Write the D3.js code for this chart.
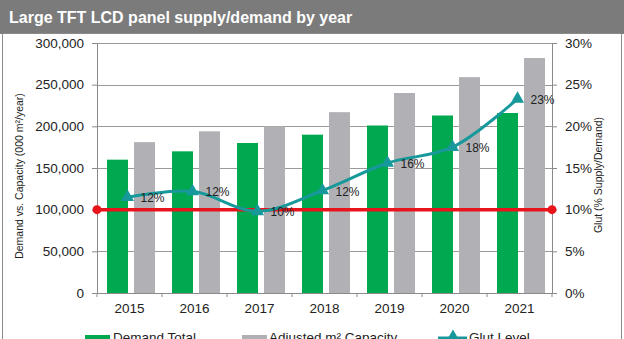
<!DOCTYPE html>
<html lang="en">
<head>
<meta charset="UTF-8">
<script src="https://cdnjs.cloudflare.com/ajax/libs/d3/7.8.5/d3.min.js"></script>
<title>Large TFT LCD panel supply/demand by year</title>
<style>
    body { margin: 0; background: #fff; }
    svg { display: block; font-family: "Liberation Sans", Arial, sans-serif; }
</style>
</head>
<body>
<script>
    // yearly values
    const years = ["2015", "2016", "2017", "2018", "2019", "2020", "2021"];
    const demand = [160000, 170000, 180000, 190000, 201000, 213000, 216000];
    const capacity = [181000, 194000, 200000, 217000, 240000, 259000, 282000];
    const glut = [11.5, 12.2, 9.8, 12.3, 15.6, 17.5, 23.3];
    const threshold = 10;
    const leftTicks = [0, 50000, 100000, 150000, 200000, 250000, 300000];
    const rightTicks = [0, 5, 10, 15, 20, 25, 30];

    const W = 624, H = 339;
    const m = {left: 97, right: 72, top: 43, bottom: 46};
    const pw = W - m.left - m.right, ph = H - m.top - m.bottom;

    const svg = d3.select("body").append("svg").attr("width", W).attr("height", H);

    // title bar + framed panel
    svg.append("rect").attr("x", 0).attr("y", 0).attr("width", W).attr("height", 34).attr("fill", "#7b7b7b");
    svg.append("rect").attr("x", 2.5).attr("y", 33.5).attr("width", W - 5).attr("height", H)
        .attr("fill", "#fff").attr("stroke", "#8a8a8a").attr("stroke-width", 1);
    svg.append("text").attr("x", 9).attr("y", 23).attr("fill", "#fff")
        .attr("font-size", 16).attr("font-weight", "bold")
        .text("Large TFT LCD panel supply/demand by year");

    const g = svg.append("g").attr("transform", `translate(${m.left},${m.top})`);

    const x = d3.scaleBand().domain(years).range([0, pw]);
    const y = d3.scaleLinear().domain([0, 300000]).range([ph, 0]);
    const y2 = d3.scaleLinear().domain([0, 30]).range([ph, 0]);

    // gridlines
    g.selectAll(".grid").data(leftTicks.slice(1)).join("line")
        .attr("x1", 0).attr("x2", pw)
        .attr("y1", d => Math.round(y(d)) + 0.5).attr("y2", d => Math.round(y(d)) + 0.5)
        .attr("stroke", "#9a9a9a").attr("stroke-width", 1);

    // bars
    const bw = 21;
    g.selectAll(".dem").data(years).join("rect")
        .attr("x", (d) => x(d) + 10).attr("width", bw)
        .attr("y", (d, i) => y(demand[i])).attr("height", (d, i) => ph - y(demand[i]))
        .attr("fill", "#00a84f");
    g.selectAll(".cap").data(years).join("rect")
        .attr("x", (d) => x(d) + 37).attr("width", bw)
        .attr("y", (d, i) => y(capacity[i])).attr("height", (d, i) => ph - y(capacity[i]))
        .attr("fill", "#b1b1b5");

    // axes
    const fmt = d3.format(",");
    const ax = g.append("g").attr("transform", `translate(0,${ph})`)
        .call(d3.axisBottom(x).tickSize(0).tickPadding(10));
    g.append("g").selectAll("line").data(d3.range(years.length + 1)).join("line")
        .attr("x1", i => i * x.step()).attr("x2", i => i * x.step())
        .attr("y1", ph).attr("y2", ph + 4).attr("stroke", "#8a8a8a");

    const al = g.append("g").call(d3.axisLeft(y).tickValues(leftTicks).tickFormat(fmt).tickSize(5).tickPadding(8));
    const ar = g.append("g").attr("transform", `translate(${pw},0)`)
        .call(d3.axisRight(y2).tickValues(rightTicks).tickFormat(d => d + "%").tickSize(5).tickPadding(8));
    [al, ar, ax].forEach(a => {
        a.select(".domain").attr("stroke", "#8a8a8a");
        a.selectAll(".tick line").attr("stroke", "#8a8a8a");
        a.selectAll("text").attr("font-size", 13.5).attr("fill", "#222").attr("font-family", "Liberation Sans, Arial, sans-serif");
    });

    // axis titles
    svg.append("text").attr("transform", `translate(23,176) rotate(-90)`)
        .attr("text-anchor", "middle").attr("font-size", 10.5).attr("fill", "#222")
        .text("Demand vs. Capacity (000 m²/year)");
    svg.append("text").attr("transform", `translate(602,175) rotate(-90)`)
        .attr("text-anchor", "middle").attr("font-size", 10.5).attr("fill", "#222")
        .text("Glut (% Supply/Demand)");

    // 10% reference line
    g.append("line").attr("x1", 0).attr("x2", pw)
        .attr("y1", y2(threshold)).attr("y2", y2(threshold))
        .attr("stroke", "#e8141c").attr("stroke-width", 3.5);
    g.selectAll(".dot").data([0, pw]).join("circle")
        .attr("cx", d => d).attr("cy", y2(threshold)).attr("r", 4.5).attr("fill", "#e8141c");

    // glut line
    const cx = (d, i) => x(years[i]) + x.bandwidth() / 2 - 2;
    const line = d3.line().x(cx).y(d => y2(d)).curve(d3.curveCatmullRom.alpha(0.5));
    g.append("path").datum(glut).attr("d", line)
        .attr("fill", "none").attr("stroke", "#17999b").attr("stroke-width", 3);
    const tri = d3.symbol().type(d3.symbolTriangle).size(75);
    g.selectAll(".mk").data(glut).join("path")
        .attr("d", tri).attr("fill", "#17999b")
        .attr("transform", (d, i) => `translate(${cx(d, i)},${y2(d)})`);
    g.selectAll(".lbl").data(glut).join("text")
        .attr("x", (d, i) => cx(d, i) + 13).attr("y", d => y2(d) + 5)
        .attr("font-size", 12).attr("fill", "#222")
        .text(d => d3.format(".0f")(d) + "%");

    // legend (runs off the bottom edge)
    const leg = svg.append("g").attr("transform", `translate(0,338)`);
    leg.append("rect").attr("x", 85).attr("y", -3).attr("width", 25).attr("height", 7).attr("fill", "#00a84f");
    leg.append("text").attr("x", 113).attr("y", 4).attr("font-size", 13.5).attr("fill", "#222").text("Demand Total");
    leg.append("rect").attr("x", 242).attr("y", -3).attr("width", 25).attr("height", 7).attr("fill", "#b1b1b5");
    leg.append("text").attr("x", 269).attr("y", 4).attr("font-size", 13.5).attr("fill", "#222").text("Adjusted m² Capacity");
    leg.append("line").attr("x1", 438).attr("x2", 467).attr("y1", 0).attr("y2", 0)
        .attr("stroke", "#17999b").attr("stroke-width", 3);
    leg.append("path").attr("d", tri).attr("fill", "#17999b").attr("transform", "translate(453,-1)");
    leg.append("text").attr("x", 469).attr("y", 4).attr("font-size", 13.5).attr("fill", "#222").text("Glut Level");
</script>
</body>
</html>
